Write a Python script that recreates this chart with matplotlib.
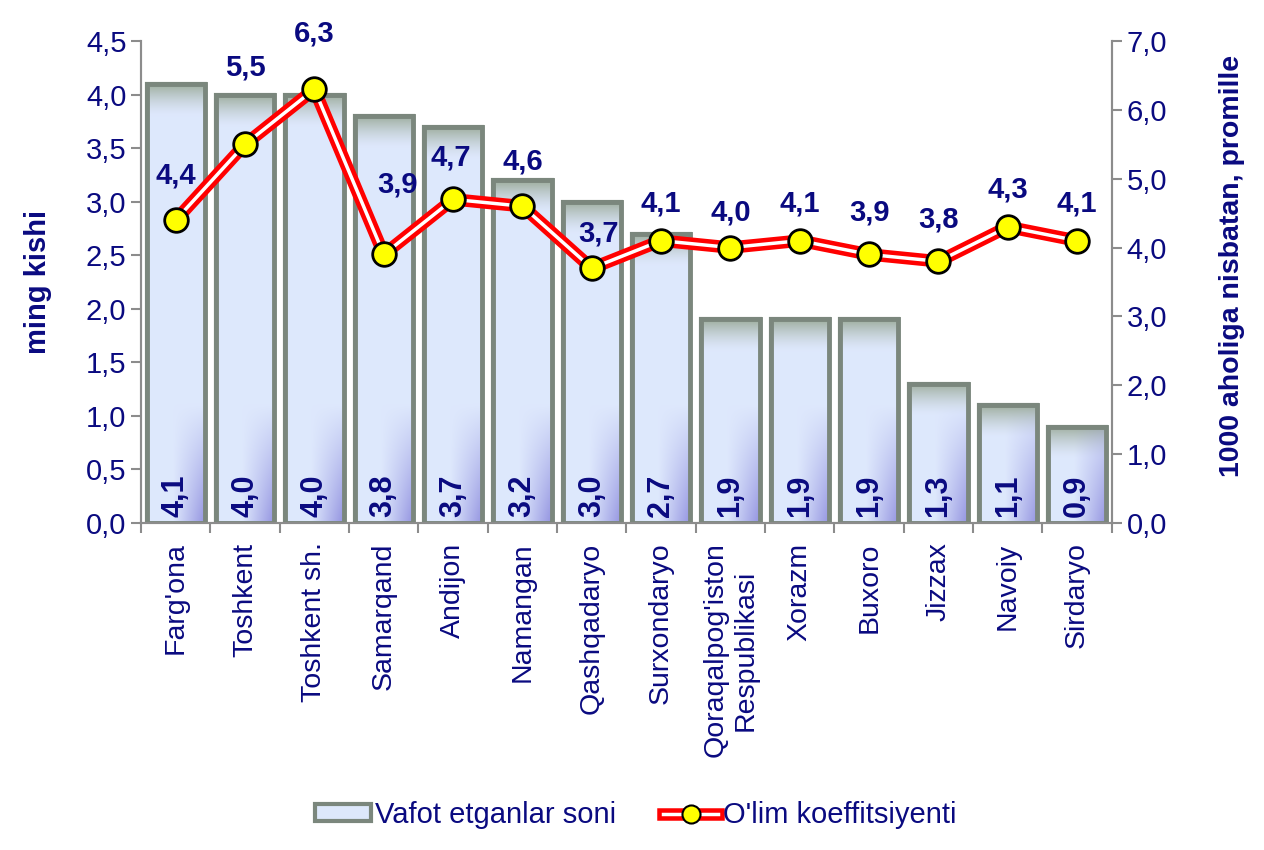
import numpy as np
import matplotlib.pyplot as plt
from matplotlib.lines import Line2D
from matplotlib.patches import Patch
from matplotlib.legend_handler import HandlerTuple
from matplotlib.ticker import FuncFormatter, MultipleLocator

plt.rcParams['font.family'] = ['Liberation Sans', 'DejaVu Sans']

# data
regions = ["Farg'ona", "Toshkent", "Toshkent sh.", "Samarqand", "Andijon",
           "Namangan", "Qashqadaryo", "Surxondaryo",
           "Qoraqalpog'iston\nRespublikasi", "Xorazm", "Buxoro", "Jizzax",
           "Navoiy", "Sirdaryo"]
deaths = [4.1, 4.0, 4.0, 3.8, 3.7, 3.2, 3.0, 2.7, 1.9, 1.9, 1.9, 1.3, 1.1, 0.9]
rate = [4.4, 5.5, 6.3, 3.9, 4.7, 4.6, 3.7, 4.1, 4.0, 4.1, 3.9, 3.8, 4.3, 4.1]

# label shifts above the markers (points)
label_dy = [32, 55, 40, 50, 30, 32, 25, 27, 25, 27, 30, 30, 27, 27]
label_dx = [0, 0, 0, 10, -2, 0, 5, 0, 0, 0, 0, 0, 0, 0]

navy = '#0a0a80'
grey = '#8c8c8c'
comma = FuncFormatter(lambda v, p: f"{v:.1f}".replace('.', ','))

fig = plt.figure(figsize=(12.64, 8.5), dpi=100)
ax = fig.add_axes([0.1116, 0.3847, 0.768, 0.5671])
ax2 = ax.twinx()

x = np.arange(len(regions))
bars = ax.bar(x, deaths, width=0.84, facecolor='#dde8fb',
              edgecolor='#7b877d', linewidth=3, zorder=2)

# gradient fill inside each bar
for b in bars:
    x0, w, h = b.get_x(), b.get_width(), b.get_height()
    ny, nx = 200, 40
    yy = np.linspace(h, 0, ny)[:, None]
    uu = np.linspace(0, 1, nx)[None, :]
    base = np.array([0.87, 0.91, 0.99])
    top = np.array([0.62, 0.68, 0.62])
    purp = np.array([0.58, 0.58, 0.88])
    wt = np.clip(1 - (h - yy) / 0.3, 0, 1) ** 1.5
    wb = np.clip((1.1 - yy) / 1.1, 0, 1) * np.clip(uu * 1.8 - 0.8, 0, 1)
    wt = np.broadcast_to(wt, (ny, nx))[..., None]
    wb = np.broadcast_to(wb, (ny, nx))[..., None]
    img = base * (1 - wt) + top * wt
    img = img * (1 - wb) + purp * wb
    im = ax.imshow(img, extent=[x0, x0 + w, 0, h], aspect='auto', zorder=2.1,
                   interpolation='bilinear')
    im.set_clip_path(b)
    edge = plt.Rectangle((x0, 0), w, h, facecolor='none', edgecolor='#7b877d',
                         linewidth=3.5, zorder=2.2)
    ax.add_patch(edge)

for xi, v in zip(x, deaths):
    ax.annotate(f"{v:.1f}".replace('.', ','), (xi, 0), xytext=(0, 4),
                textcoords='offset points', rotation=90, ha='center',
                va='bottom', fontsize=22, fontweight='bold', color=navy,
                zorder=5)

ax.set_xlim(-0.5, len(regions) - 0.5)
ax.set_ylim(0, 4.5)
ax2.set_ylim(0, 7.0)
ax.yaxis.set_major_locator(MultipleLocator(0.5))
ax2.yaxis.set_major_locator(MultipleLocator(1.0))
ax.yaxis.set_major_formatter(comma)
ax2.yaxis.set_major_formatter(comma)

ax2.plot(x, rate, color='#ff0000', lw=9, zorder=3)
ax2.plot(x, rate, color='white', lw=2.5, zorder=3.1)
ax2.plot(x, rate, 'o', ms=17, mfc='#ffff00', mec='black', mew=2, zorder=3.2)
for xi, v, dy, dx in zip(x, rate, label_dy, label_dx):
    ax2.annotate(f"{v:.1f}".replace('.', ','), (xi, v), xytext=(dx, dy),
                 textcoords='offset points', ha='center', va='center',
                 fontsize=21, fontweight='bold', color=navy, zorder=6)

# axes styling
ax.set_xticks(x)
ax.set_xticklabels(regions, rotation=90, fontsize=20.5, color=navy,
                   multialignment='center')
ax.set_xticks(np.arange(-0.5, len(regions)), minor=True)
ax.tick_params(axis='x', which='major', length=0, pad=14)
ax.tick_params(axis='x', which='minor', length=7, color=grey, width=1.5)
ax.tick_params(axis='y', labelsize=21, labelcolor=navy, color=grey,
               length=7, width=1.5)
ax2.tick_params(axis='y', labelsize=21, labelcolor=navy, color=grey,
                length=7, width=1.5)
for a in (ax, ax2):
    a.spines['top'].set_visible(False)
    for s in ('left', 'right', 'bottom'):
        a.spines[s].set_color(grey)
        a.spines[s].set_linewidth(1.5)
ax.set_zorder(ax2.get_zorder() - 1)
ax2.patch.set_visible(False)

fig.text(0.030, 0.668, 'ming kishi', rotation=90, ha='center', va='center',
         fontsize=21, fontweight='bold', color=navy)
fig.text(0.975, 0.687, '1000 aholiga nisbatan, promille', rotation=90,
         ha='center', va='center', fontsize=20.5, fontweight='bold', color=navy)

# legend
h_bar = Patch(facecolor='#dde8fb', edgecolor='#7b877d', linewidth=3)
h_line = (Line2D([], [], color='#ff0000', lw=9),
          Line2D([], [], color='white', lw=2.5),
          Line2D([], [], ls='none', marker='o', ms=13, mfc='#ffff00',
                 mec='black', mew=1.5))
fig.legend([h_bar, h_line], ['Vafot etganlar soni', "O'lim koeffitsiyenti"],
           handler_map={tuple: HandlerTuple(ndivide=1)},
           loc='center', bbox_to_anchor=(0.503, 0.041), ncol=2, frameon=False,
           fontsize=21, labelcolor=navy, handlelength=1.9, handleheight=0.5,
           handletextpad=0.15, columnspacing=1.6)

fig.savefig('out.png', dpi=100)
